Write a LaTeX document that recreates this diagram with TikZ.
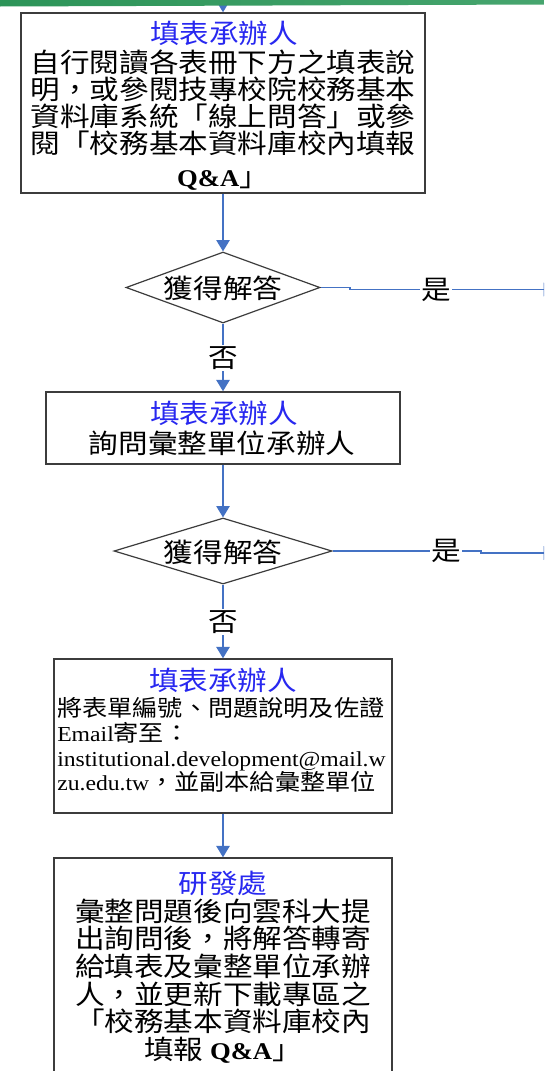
\documentclass[tikz,border=0pt]{standalone}
\usepackage{fontspec}
\setmainfont{Liberation Serif}
\newfontfamily\cjk[FakeStretch=1.11]{Noto Sans CJK TC}
\newfontfamily\lat[FakeStretch=1.11]{Liberation Serif}
\usetikzlibrary{shapes.geometric,arrows.meta}
\definecolor{lineblue}{RGB}{68,114,196}
\definecolor{titleblue}{RGB}{40,40,240}
\definecolor{boxgray}{RGB}{60,60,60}
\definecolor{topgreen}{RGB}{44,148,88}
\definecolor{topgreenlight}{RGB}{70,165,110}
\newcommand{\qa}{{\lat\bfseries\fontsize{18pt}{20pt}\selectfont Q\&A}}
\newcommand{\lt}[1]{{\lat\fontsize{16pt}{18.5pt}\selectfont #1}}
\begin{document}
\begin{tikzpicture}[x=0.75pt,y=-0.75pt,
  box/.style={draw=boxgray,line width=1.1pt,rectangle,inner sep=0pt},
  dia/.style={draw=boxgray,line width=0.9pt,diamond,inner sep=0pt},
  conn/.style={draw=lineblue,line width=1.1pt,-{Triangle[length=8.5pt,width=10pt]}},
  ttl/.style={text=titleblue,font=\cjk\fontsize{20pt}{20pt}\selectfont,inner sep=0pt},
  body/.style={font=\cjk\fontsize{20pt}{20.25pt}\selectfont,inner sep=0pt,align=center},
  bodysm/.style={font=\cjk\fontsize{17pt}{18.5pt}\selectfont,inner sep=0pt,align=left},
  lbl/.style={fill=white,font=\cjk\fontsize{20pt}{20pt}\selectfont,inner sep=1pt}
]
\useasboundingbox (0,0) rectangle (544,1071);
\begin{scope}
\clip (0,0) rectangle (544,1071);
\fill[white] (0,0) rectangle (544,1071);

% boxes and diamonds
\node[box,minimum width=303pt,minimum height=135pt] (b1) at (223,103) {};
\node[dia,minimum width=145.5pt,minimum height=53.25pt] (d1) at (223,287.5) {};
\node[box,minimum width=265.5pt,minimum height=54pt] (b2) at (223,428) {};
\node[dia,minimum width=163.5pt,minimum height=49.5pt] (d2) at (223,551) {};
\node[box,minimum width=253.5pt,minimum height=115.5pt] (b3) at (223,736) {};
\node[box,minimum width=253.5pt,minimum height=174pt] (b4) at (223,974) {};

% texts
\node[ttl] (t1h) at (224,33) {填表承辦人};
\node[body] (t1) at (223,120) {自行閱讀各表冊下方之填表說\\明，或參閱技專校院校務基本\\資料庫系統「線上問答」或參\\閱「校務基本資料庫校內填報\\[5pt]\qa 」};
\node[body] (dt1) at (223,288) {獲得解答};
\node[ttl] (t2h) at (224,413) {填表承辦人};
\node[body] (t2) at (222,443) {詢問彙整單位承辦人};
\node[body] (dt2) at (223,552) {獲得解答};
\node[ttl] (t3h) at (223,680) {填表承辦人};
\node[bodysm,anchor=west] (t3) at (57,745) {將表單編號、問題說明及佐證\\\lt{Email}寄至：\\\lt{institutional.development@mail.w}\\\lt{zu.edu.tw}，並副本給彙整單位};
\node[ttl] (t4h) at (223,883) {研發處};
\node[body,font=\cjk\fontsize{20pt}{20.7pt}\selectfont] (t4) at (223,981) {彙整問題後向雲科大提\\出詢問後，將解答轉寄\\給填表及彙整單位承辦\\人，並更新下載專區之\\「校務基本資料庫校內\\填報 \qa 」};

% connectors
\coordinate (top) at (223,-6);
\draw[conn] (top) -- (b1.north);
\draw[conn] (b1.south) -- (d1.north);
\draw[conn] (d1.south) -- node[lbl,pos=0.51] (no1) {否} (b2.north);
\draw[conn] (b2.south) -- (d2.north);
\draw[conn] (d2.south) -- node[lbl,pos=0.51] (no2) {否} (b3.north);
\draw[conn] (b3.south) -- (b4.north);

\coordinate (j1a) at (350,287.5);
\coordinate (j1b) at (350,289.5);
\coordinate (o1) at (555,289.5);
\draw[conn] (d1.east) -- (j1a) -- (j1b) -- node[lbl,pos=0.42] (yes1) {是} (o1);
\coordinate (j2a) at (481,551);
\coordinate (j2b) at (481,553);
\coordinate (o2) at (555,553);
\draw[conn] (d2.east) -- node[lbl,pos=0.765] (yes2) {是} (j2a) -- (j2b) -- (o2);

% top green band
\shade[left color=topgreen,right color=topgreenlight] (0,0) -- (544,0) -- (544,4.5) -- (0,6.5) -- cycle;
\end{scope}
\end{tikzpicture}
\end{document}
